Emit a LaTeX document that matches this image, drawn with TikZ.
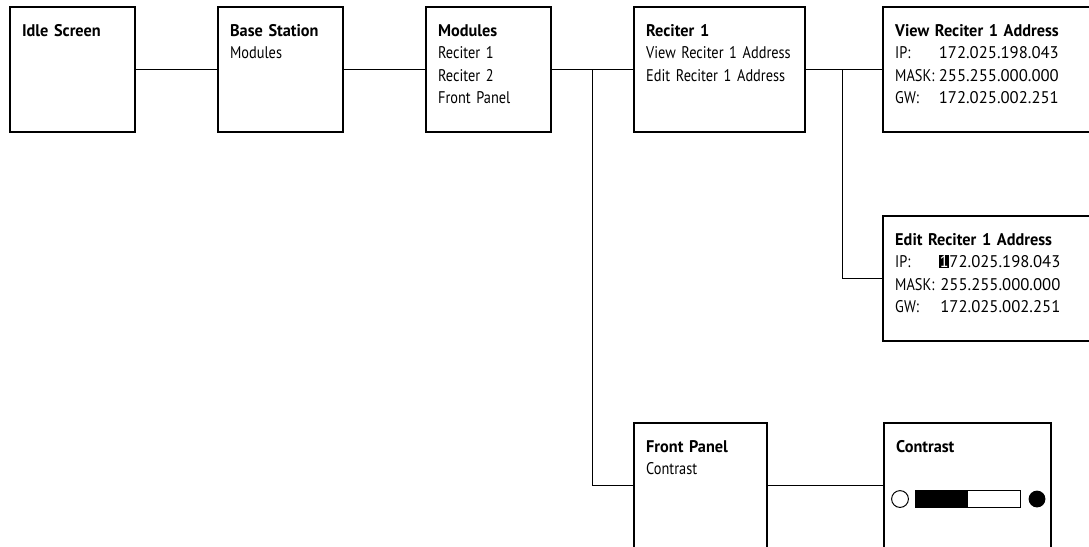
\documentclass[tikz,border=0pt]{standalone}
\usepackage{fontspec}
\setmainfont{PT Sans}[UprightFeatures={FakeStretch=0.85}, BoldFeatures={FakeStretch=0.965}]
\newfontfamily\numfont{PT Sans}[FakeStretch=0.99]
\usetikzlibrary{positioning, calc}

\newcommand{\menufont}{\fontsize{12}{16}\selectfont}
\newcommand{\cursorbox}[1]{{\setlength{\fboxsep}{0.6pt}\colorbox{black}{\textcolor{white}{#1}}}}

\begin{document}
\begin{tikzpicture}[x=0.025cm, y=-0.025cm,
    screen/.style={draw, line width=1.3pt, anchor=north west, align=left, font=\menufont,
      text width=2.525cm, inner xsep=0.3cm, inner ysep=0pt, outer sep=0pt,
      text height=0.725cm, text depth=2.4cm},
    wire/.style={line width=0.6pt}]
    \clip[use as bounding box] (0,0) rectangle (1089,546);

    \node[screen] (idle) at (10,7) {\textbf{Idle Screen}};
    \node[screen, right=2.075cm of idle] (base) {\textbf{Base Station}\\Modules};
    \node[screen, right=2.075cm of base] (modules) {\textbf{Modules}\\Reciter 1\\Reciter 2\\Front Panel};
    \node[screen, right=2.075cm of modules, text width=3.675cm] (reciter) {\textbf{Reciter 1}\\View Reciter 1 Address\\Edit Reciter 1 Address};
    \node[screen, right=1.95cm of reciter, text width=4.9cm] (view) {
      \begin{tabular}[t]{@{}l@{\hspace{3pt}}r@{}}
        \multicolumn{2}{@{}l@{}}{\textbf{View Reciter 1 Address}} \\
        IP: & \numfont 172.025.198.043 \\
        MASK: & \numfont 255.255.000.000 \\
        GW: & \numfont 172.025.002.251
      \end{tabular}
    };
    \node[screen, below=2.1cm of view, text width=4.9cm] (edit) {
      \begin{tabular}[t]{@{}l@{\hspace{3pt}}r@{}}
        \multicolumn{2}{@{}l@{}}{\textbf{Edit Reciter 1 Address}} \\
        IP: & \numfont\cursorbox{1}72.025.198.043 \\
        MASK: & \numfont 255.255.000.000 \\
        GW: & \numfont 172.025.002.251
      \end{tabular}
    };
    \node[screen, below=7.275cm of reciter.south west, anchor=north west, text width=2.725cm] (front) {\textbf{Front Panel}\\Contrast};
    \node[screen, right=2.925cm of front, text width=3.575cm] (contrast) {\textbf{Contrast}};

    \coordinate (mj) at ($(modules.east)!.5!(reciter.west)$);
    \coordinate (rj) at ($(reciter.east)!.48!(view.west)$);

    \draw[wire] (idle) -- (base);
    \draw[wire] (base) -- (modules);
    \draw[wire] (modules) -- (reciter);
    \draw[wire] (mj) |- (front);
    \draw[wire] (reciter) -- (view);
    \draw[wire] (rj) |- (edit);
    \draw[wire] (front) -- (contrast);

    \draw[line width=0.7pt] (900,499) circle[radius=0.21cm];
    \draw[line width=0.7pt] (915,490) rectangle (1020,507);
    \fill (915,490) rectangle (968,507);
    \fill (1037,499) circle[radius=0.21cm];
\end{tikzpicture}
\end{document}
